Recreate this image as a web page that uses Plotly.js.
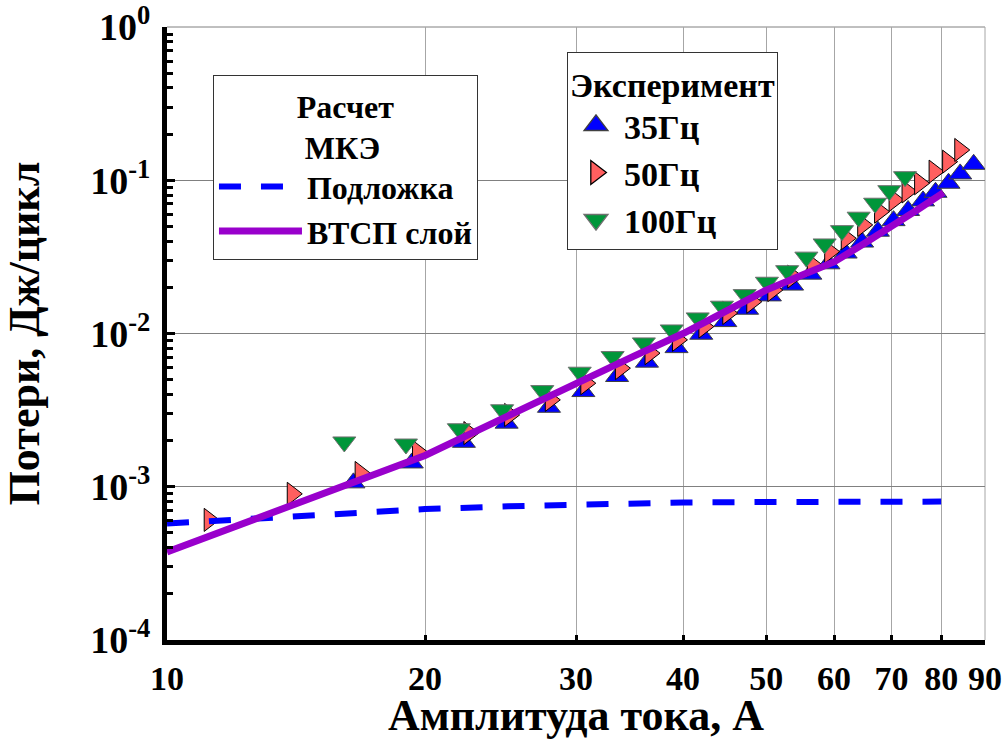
<!DOCTYPE html>
<html>
<head>
<meta charset="utf-8">
<script src="https://cdn.plot.ly/plotly-3.0.1.min.js"></script>
<style>html,body{margin:0;padding:0;background:#fff;}</style>
</head>
<body>
<div id="chart" style="width:1005px;height:740px;"></div>
<script>
// ---- Data ----
const substrateX = [10, 12, 14, 16, 18, 20, 25, 30, 35, 40, 50, 60, 70, 80];
const substrateY = [5.75e-4, 6.1e-4, 6.45e-4, 6.75e-4, 7.0e-4, 7.15e-4, 7.45e-4, 7.65e-4, 7.8e-4, 7.9e-4, 7.95e-4, 8.0e-4, 8.0e-4, 8.0e-4];

const htsX = [10, 15, 20, 25, 30, 35, 40, 45, 50, 55, 60, 65, 70, 75, 80.5];
const htsY = [3.75e-4, 8.8e-4, 1.6e-3, 2.9e-3, 4.75e-3, 7.1e-3, 1.0e-2, 1.4e-2, 1.92e-2, 2.4e-2, 2.93e-2, 3.85e-2, 4.95e-2, 6.4e-2, 8.3e-2];

const f35X = [16.5, 19.3, 22.2, 24.9, 27.9, 30.6, 33.5, 36.3, 39.3, 42.0, 44.8, 47.5, 50.5, 53.6, 56.3, 59.1, 61.9, 64.7, 67.5, 70.4, 73.2, 76.2, 78.8, 81.6, 84.2, 87.3];
const f35Y = [1.06e-3, 1.43e-3, 1.95e-3, 2.60e-3, 3.30e-3, 4.18e-3, 5.24e-3, 6.50e-3, 8.09e-3, 9.89e-3, 1.196e-2, 1.44e-2, 1.76e-2, 2.07e-2, 2.44e-2, 2.85e-2, 3.35e-2, 3.95e-2, 4.65e-2, 5.45e-2, 6.35e-2, 7.33e-2, 8.35e-2, 9.56e-2, 0.110, 0.127];

const f50X = [11.2, 14.0, 16.8, 19.6, 22.5, 25.1, 28.0, 30.8, 33.8, 36.6, 39.4, 42.3, 45.1, 48.1, 50.9, 53.7, 56.6, 59.3, 62.0, 64.8, 67.8, 70.5, 73.0, 75.5, 78.5, 81.4, 84.1];
const f50Y = [6.08e-4, 8.99e-4, 1.23e-3, 1.69e-3, 2.24e-3, 2.94e-3, 3.69e-3, 4.74e-3, 5.94e-3, 7.44e-3, 9.09e-3, 1.11e-2, 1.36e-2, 1.61e-2, 1.92e-2, 2.35e-2, 2.80e-2, 3.42e-2, 4.18e-2, 5.11e-2, 6.24e-2, 7.44e-2, 8.45e-2, 9.56e-2, 0.1138, 0.1322, 0.1576];

const f100X = [16.1, 19.0, 21.9, 24.6, 27.4, 30.3, 33.1, 36.0, 38.8, 41.6, 44.4, 47.2, 50.1, 52.9, 55.7, 58.5, 61.3, 64.1, 67.0, 69.6, 72.6];
const f100Y = [1.96e-3, 1.90e-3, 2.39e-3, 3.18e-3, 4.24e-3, 5.59e-3, 7.07e-3, 8.68e-3, 1.055e-2, 1.264e-2, 1.507e-2, 1.794e-2, 2.16e-2, 2.57e-2, 3.15e-2, 3.84e-2, 4.69e-2, 5.74e-2, 7.08e-2, 8.55e-2, 0.1055];

const xTickVals = [10, 20, 30, 40, 50, 60, 70, 80, 90];
const xTickText = ['10', '20', '30', '40', '50', '60', '70', '80', '90'];
const yTickVals = [1e-4, 1e-3, 1e-2, 1e-1, 1];
const yTickText = ['10<sup>-4</sup>', '10<sup>-3</sup>', '10<sup>-2</sup>', '10<sup>-1</sup>', '10<sup>0</sup>'];

const legendTitleCalc = 'Расчет<br> МКЭ';
const legendTitleExp = 'Эксперимент';
const names = { substrate: 'Подложка', hts: 'ВТСП слой', f35: '35Гц', f50: '50Гц', f100: '100Гц' };
const xTitle = 'Амплитуда тока, А';
const yTitle = 'Потери, Дж/цикл';

// minor tick positions 2..9 per decade (axis decoration)
const yMinor = [];
for (let d = -4; d < 0; d++) for (let k = 2; k <= 9; k++) yMinor.push(k * Math.pow(10, d));

const FONT = 'Liberation Serif, Times New Roman, serif';

const traces = [
  { x: f35X, y: f35Y, name: names.f35, mode: 'markers', type: 'scatter', legend: 'legend2',
    marker: { symbol: 'triangle-up', size: 20, color: '#0000FF', line: { color: '#404040', width: 1 } } },
  { x: f50X, y: f50Y, name: names.f50, mode: 'markers', type: 'scatter', legend: 'legend2',
    marker: { symbol: 'triangle-right', size: 20, color: '#FF5F5F', line: { color: '#000000', width: 1 } } },
  { x: f100X, y: f100Y, name: names.f100, mode: 'markers', type: 'scatter', legend: 'legend2',
    marker: { symbol: 'triangle-down', size: 20, color: '#00963A', line: { color: '#707070', width: 1 } } },
  { x: substrateX, y: substrateY, name: names.substrate, mode: 'lines', type: 'scatter', legend: 'legend',
    line: { color: '#0000FF', width: 6, dash: '22px,20px' } },
  { x: htsX, y: htsY, name: names.hts, mode: 'lines', type: 'scatter', legend: 'legend',
    line: { color: '#9900CC', width: 7 } }
];

const layout = {
  width: 1005, height: 740,
  margin: { l: 167, r: 20, t: 27, b: 100 },
  paper_bgcolor: '#ffffff', plot_bgcolor: '#ffffff',
  font: { family: FONT, color: '#000', weight: 'bold' },
  showlegend: true,
  xaxis: {
    type: 'log', range: [1, Math.log10(90)],
    tickmode: 'array', tickvals: xTickVals, ticktext: xTickText,
    tickfont: { family: FONT, size: 34, weight: 'bold', color: '#000' },
    ticks: 'inside', ticklen: 5, tickwidth: 3, tickcolor: '#000',
    ticklabelstandoff: 4,
    showgrid: true, gridcolor: '#A6A6A6', gridwidth: 1,
    showline: true, linecolor: '#000', linewidth: 5, mirror: false,
    zeroline: false,
    title: { text: xTitle, font: { family: FONT, size: 44, weight: 'bold', color: '#000' }, standoff: 28 }
  },
  yaxis: {
    type: 'log', range: [-4, 0],
    tickmode: 'array', tickvals: yTickVals, ticktext: yTickText,
    tickfont: { family: FONT, size: 38, weight: 'bold', color: '#000' },
    ticks: 'inside', ticklen: 8, tickwidth: 3, tickcolor: '#000',
    ticklabelstandoff: 4,
    minor: { tickmode: 'array', tickvals: yMinor, ticks: 'inside', ticklen: 6, tickwidth: 3, tickcolor: '#000', showgrid: false },
    showgrid: true, gridcolor: '#808080', gridwidth: 1,
    showline: true, linecolor: '#000', linewidth: 5, mirror: false,
    zeroline: false,
    title: { text: yTitle, font: { family: FONT, size: 44, weight: 'bold', color: '#000' }, standoff: 44 }
  },
  shapes: [
    { type: 'line', xref: 'paper', yref: 'paper', x0: 0, x1: 1, y0: 1, y1: 1, line: { color: '#808080', width: 1 }, layer: 'below' },
    { type: 'line', xref: 'paper', yref: 'paper', x0: 1, x1: 1, y0: 0, y1: 1, line: { color: '#A6A6A6', width: 1 }, layer: 'below' }
  ],
  legend: {
    x: 0.0562, y: 0.9217, xanchor: 'left', yanchor: 'top',
    bgcolor: '#ffffff', bordercolor: '#333333', borderwidth: 1,
    font: { family: FONT, size: 32, weight: 'bold', color: '#000' },
    title: { text: legendTitleCalc, side: 'top center', font: { family: FONT, size: 32, weight: 'bold', color: '#000' } },
    itemwidth: 83, traceorder: 'normal'
  },
  legend2: {
    x: 0.489, y: 0.96, xanchor: 'left', yanchor: 'top',
    bgcolor: '#ffffff', bordercolor: '#333333', borderwidth: 1,
    font: { family: FONT, size: 34, weight: 'bold', color: '#000' },
    title: { text: legendTitleExp, side: 'top', font: { family: FONT, size: 34, weight: 'bold', color: '#000' } },
    itemwidth: 46, traceorder: 'normal'
  }
};

Plotly.newPlot('chart', traces, layout, { displayModeBar: false, staticPlot: true }).then(function (gd) {
  // enlarge legend symbols of the experiment legend to match the plotted markers
  document.querySelectorAll('.legend2 .legendpoints path.scatterpts').forEach(function (p) {
    const t = p.getAttribute('transform') || '';
    p.setAttribute('transform', t + ' scale(1.3)');
  });
});
</script>
</body>
</html>
